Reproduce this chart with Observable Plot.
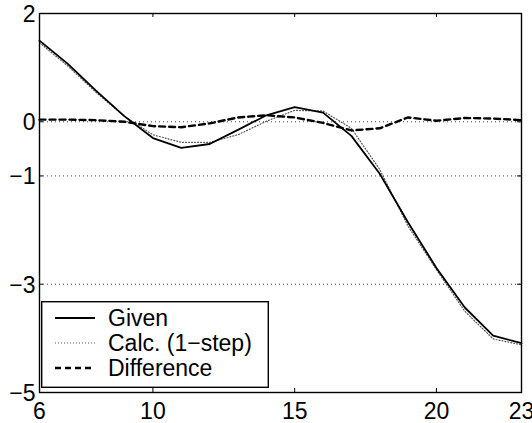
<!DOCTYPE html>
<html><head><meta charset="utf-8">
<script src="https://cdn.jsdelivr.net/npm/d3@7"></script>
<script src="https://cdn.jsdelivr.net/npm/@observablehq/plot@0.6"></script>
<style>
body{margin:0;background:#fff;}
#wrap{position:relative;width:532px;height:423px;overflow:hidden;}
#legend{position:absolute;left:41px;top:301px;}
</style></head><body><div id="wrap"></div>
<script>
const steps = [6,7,8,9,10,11,12,13,14,15,16,17,18,19,20,21,22,23];
const given = [1.50,1.07,0.57,0.10,-0.30,-0.48,-0.41,-0.15,0.12,0.27,0.17,-0.26,-0.96,-1.86,-2.70,-3.43,-3.95,-4.09];
const calc = [1.46,1.03,0.54,0.10,-0.24,-0.38,-0.38,-0.24,0.01,0.21,0.20,-0.12,-0.88,-1.93,-2.73,-3.50,-4.01,-4.12];
const difference = [0.04,0.04,0.03,0.00,-0.08,-0.10,-0.03,0.08,0.12,0.08,-0.02,-0.16,-0.12,0.08,0.02,0.07,0.06,0.03];
const xTicks = [6,10,15,20,23];
const yTicks = [2,0,-1,-3,-5];
const gridY = [0,-1,-3];
const seriesNames = ["Given","Calc. (1−step)","Difference"];

const W = 532, H = 423, mL = 39, mR = 11, mT = 13, mB = 31;
const frameW = W - mL - mR, frameH = H - mT - mB;
const font = "'Liberation Sans', Arial, Helvetica, sans-serif";
const fmt = d3.format("d");
const fs = 23;

const rows = (vals) => steps.map((s, i) => ({x: s, y: vals[i]}));

const chart = Plot.plot({
  width: W, height: H,
  marginLeft: mL, marginRight: mR, marginTop: mT, marginBottom: mB,
  style: {fontFamily: font, fontSize: fs + "px", background: "#fff", color: "#000", overflow: "visible"},
  x: {domain: [6, 23]},
  y: {domain: [-5, 2]},
  marks: [
    Plot.ruleY(gridY, {stroke: "#444", strokeWidth: 1, strokeDasharray: "1,3"}),
    Plot.line(rows(calc), {x: "x", y: "y", stroke: "#555", strokeWidth: 1.2, strokeDasharray: "1,2"}),
    Plot.line(rows(given), {x: "x", y: "y", stroke: "#000", strokeWidth: 1.8}),
    Plot.line(rows(difference), {x: "x", y: "y", stroke: "#000", strokeWidth: 2.4, strokeDasharray: "6,4"}),
    Plot.tickX(xTicks, {x: d => d, insetTop: frameH - 4, stroke: "#000"}),
    Plot.tickX(xTicks, {x: d => d, insetBottom: frameH - 4, stroke: "#000"}),
    Plot.tickY(yTicks, {y: d => d, insetRight: frameW - 4, stroke: "#000"}),
    Plot.tickY(yTicks, {y: d => d, insetLeft: frameW - 4, stroke: "#000"}),
    Plot.frame({stroke: "#000", strokeWidth: 1.4}),
    Plot.axisX(xTicks, {tickSize: 0, tickPadding: 10, fontSize: fs, label: null, tickFormat: fmt}),
    Plot.axisY(yTicks, {tickSize: 0, tickPadding: 4, fontSize: fs, label: null, dy: 1, tickFormat: fmt})
  ]
});

const wrap = document.getElementById("wrap");
wrap.appendChild(chart);

// legend overlay
const styles = [
  {stroke: "#000", width: 1.8, dash: null},
  {stroke: "#555", width: 1.2, dash: "1,2"},
  {stroke: "#000", width: 2.4, dash: "6,4"}
];
const lw = 228, lh = 87;
const ns = "http://www.w3.org/2000/svg";
const leg = document.createElementNS(ns, "svg");
leg.setAttribute("id", "legend");
leg.setAttribute("width", lw);
leg.setAttribute("height", lh);
const rect = document.createElementNS(ns, "rect");
rect.setAttribute("x", 0.7); rect.setAttribute("y", 0.7);
rect.setAttribute("width", lw - 1.4); rect.setAttribute("height", lh - 1.4);
rect.setAttribute("fill", "#fff"); rect.setAttribute("stroke", "#000"); rect.setAttribute("stroke-width", 1.4);
leg.appendChild(rect);
seriesNames.forEach((name, i) => {
  const cy = 17 + 25 * i;
  const ln = document.createElementNS(ns, "line");
  ln.setAttribute("x1", 14); ln.setAttribute("x2", 54);
  ln.setAttribute("y1", cy); ln.setAttribute("y2", cy);
  ln.setAttribute("stroke", styles[i].stroke);
  ln.setAttribute("stroke-width", styles[i].width);
  if (styles[i].dash) ln.setAttribute("stroke-dasharray", styles[i].dash);
  leg.appendChild(ln);
  const t = document.createElementNS(ns, "text");
  t.setAttribute("x", 67); t.setAttribute("y", cy);
  t.setAttribute("dy", "0.36em");
  t.setAttribute("font-family", font);
  t.setAttribute("font-size", fs);
  t.textContent = name;
  leg.appendChild(t);
});
wrap.appendChild(leg);
</script></body></html>
